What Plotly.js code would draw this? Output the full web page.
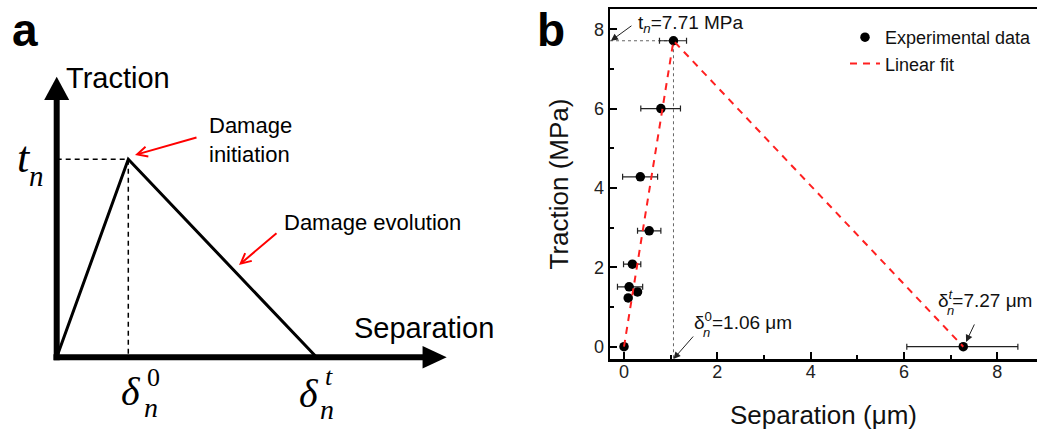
<!DOCTYPE html>
<html><head><meta charset="utf-8">
<script src="https://cdn.plot.ly/plotly-3.0.1.min.js"></script>
<style>html,body{margin:0;padding:0;background:#fff}#chart{width:1037px;height:430px}</style>
</head><body><div id="chart"></div>
<script>
// ---- Panel b: experimental traction-separation data ----
const separation   = [0, 0.09, 0.11, 0.29, 0.18, 0.54, 0.35, 0.79, 1.06, 7.27];
const traction     = [0, 1.23, 1.51, 1.38, 2.08, 2.92, 4.28, 6.00, 7.71, 0];
const sepErrPlus   = [0, 0, 0.29, 0, 0.18, 0.25, 0.37, 0.42, 0.28, 1.17];
const sepErrMinus  = [0, 0, 0.25, 0, 0.19, 0.25, 0.38, 0.43, 0.30, 1.21];
const fitSeparation = [0, 1.06, 7.27];
const fitTraction   = [0, 7.71, 0];
const peakTraction = 7.71, initSeparation = 1.06, failSeparation = 7.27;
const xTickVals = [0, 2, 4, 6, 8];
const yTickVals = [0, 2, 4, 6, 8];
const xRange = [-0.3, 8.85];
const yRange = [-0.31, 8.51];
// ---- Panel a: schematic bilinear law (normalised) ----
const schemSeparation = [0, 1, 3.63];
const schemTraction   = [0, 1, 0];

const W = 1037, H = 430;
const px = v => v / W;
const py = v => 1 - v / H;
const SANS = 'Liberation Sans, Arial, sans-serif';
const SERIF = 'Liberation Serif, Times New Roman, serif';

const traces = [
  // panel a
  {x: [0, schemSeparation[1], schemSeparation[1]], y: [schemTraction[1], schemTraction[1], 0],
   xaxis: 'x2', yaxis: 'y2', mode: 'lines', line: {color: '#000', width: 1.5, dash: '5px,4px'},
   showlegend: false, hoverinfo: 'skip'},
  {x: schemSeparation, y: schemTraction, xaxis: 'x2', yaxis: 'y2', mode: 'lines',
   line: {color: '#000', width: 3}, showlegend: false, hoverinfo: 'skip'},
  // panel b guides
  {x: [xRange[0], initSeparation, initSeparation], y: [peakTraction, peakTraction, yRange[0]],
   mode: 'lines', line: {color: '#666', width: 1, dash: 'dot'}, showlegend: false, hoverinfo: 'skip'},
  // data
  {x: separation, y: traction, mode: 'markers', name: 'Experimental data',
   marker: {color: '#000', size: 9.5},
   error_x: {type: 'data', array: sepErrPlus, arrayminus: sepErrMinus, color: '#222', thickness: 1.2, width: 3}},
  // fit
  {x: fitSeparation, y: fitTraction, mode: 'lines', name: 'Linear fit',
   line: {color: '#ff2020', width: 2, dash: '7px,6px'}},
];

const annotations = [
  // panel a
  {xref: 'paper', yref: 'paper', x: px(10), y: py(30), xanchor: 'left', yanchor: 'middle', showarrow: false,
   text: '<b>a</b>', font: {family: SANS, size: 46, color: '#000'}},
  {xref: 'paper', yref: 'paper', x: px(64), y: py(78), xanchor: 'left', yanchor: 'middle', showarrow: false,
   text: 'Traction', font: {family: SANS, size: 29, color: '#000'}},
  {xref: 'paper', yref: 'paper', x: px(352), y: py(328), xanchor: 'left', yanchor: 'middle', showarrow: false,
   text: 'Separation', font: {family: SANS, size: 29, color: '#000'}},
  {xref: 'paper', yref: 'paper', x: px(24), y: py(157), xanchor: 'center', yanchor: 'middle', showarrow: false,
   text: '<i>t</i>', font: {family: SERIF, size: 44, color: '#000'}},
  {xref: 'paper', yref: 'paper', x: px(36), y: py(176), xanchor: 'center', yanchor: 'middle', showarrow: false,
   text: '<i>n</i>', font: {family: SERIF, size: 29, color: '#000'}},
  {xref: 'paper', yref: 'paper', x: px(131), y: py(391), xanchor: 'center', yanchor: 'middle', showarrow: false,
   text: '<i>δ</i>', font: {family: SERIF, size: 40, color: '#000'}},
  {xref: 'paper', yref: 'paper', x: px(153), y: py(377), xanchor: 'center', yanchor: 'middle', showarrow: false,
   text: '0', font: {family: SERIF, size: 26, color: '#000'}},
  {xref: 'paper', yref: 'paper', x: px(151), y: py(407), xanchor: 'center', yanchor: 'middle', showarrow: false,
   text: '<i>n</i>', font: {family: SERIF, size: 28, color: '#000'}},
  {xref: 'paper', yref: 'paper', x: px(309), y: py(393), xanchor: 'center', yanchor: 'middle', showarrow: false,
   text: '<i>δ</i>', font: {family: SERIF, size: 40, color: '#000'}},
  {xref: 'paper', yref: 'paper', x: px(329), y: py(376), xanchor: 'center', yanchor: 'middle', showarrow: false,
   text: '<i>t</i>', font: {family: SERIF, size: 26, color: '#000'}},
  {xref: 'paper', yref: 'paper', x: px(327), y: py(409), xanchor: 'center', yanchor: 'middle', showarrow: false,
   text: '<i>n</i>', font: {family: SERIF, size: 28, color: '#000'}},
  {xref: 'paper', yref: 'paper', x: px(207), y: py(140), xanchor: 'left', yanchor: 'middle', showarrow: false, align: 'left',
   text: 'Damage<br>initiation', font: {family: SANS, size: 22, color: '#000'}},
  {xref: 'paper', yref: 'paper', x: px(282), y: py(222), xanchor: 'left', yanchor: 'middle', showarrow: false,
   text: 'Damage evolution', font: {family: SANS, size: 22, color: '#000'}},
  {xref: 'paper', yref: 'paper', x: px(135), y: py(155), ax: 63, ay: -18, text: '', showarrow: true,
   arrowcolor: '#ff0000', arrowwidth: 2, arrowhead: 5, arrowsize: 1},
  {xref: 'paper', yref: 'paper', x: px(239), y: py(265), ax: 39, ay: -33, text: '', showarrow: true,
   arrowcolor: '#ff0000', arrowwidth: 2, arrowhead: 5, arrowsize: 1},
  // panel b
  {xref: 'paper', yref: 'paper', x: px(535), y: py(30), xanchor: 'left', yanchor: 'middle', showarrow: false,
   text: '<b>b</b>', font: {family: SANS, size: 46, color: '#000'}},
  {xref: 'paper', yref: 'paper', x: px(636), y: py(24), xanchor: 'left', yanchor: 'middle', showarrow: false,
   text: 't<sub><i>n</i></sub>=7.71 MPa', font: {family: SANS, size: 19, color: '#111'}},
  {xref: 'x', yref: 'y', x: xRange[0] + 0.02, y: peakTraction, ax: 22, ay: -16, text: '', showarrow: true,
   arrowcolor: '#222', arrowwidth: 1, arrowhead: 2, arrowsize: 1.4},
  {xref: 'paper', yref: 'paper', x: px(692), y: py(321), xanchor: 'left', yanchor: 'middle', showarrow: false,
   text: 'δ<sup>0</sup>=1.06 μm', font: {family: SANS, size: 19, color: '#111'}},
  {xref: 'paper', yref: 'paper', x: px(706), y: py(332), xanchor: 'center', yanchor: 'middle', showarrow: false,
   text: '<i>n</i>', font: {family: SANS, size: 13, color: '#111'}},
  {xref: 'x', yref: 'y', x: initSeparation, y: yRange[0], ax: 21, ay: -24, text: '', showarrow: true,
   arrowcolor: '#222', arrowwidth: 1, arrowhead: 2, arrowsize: 1.4},
  {xref: 'paper', yref: 'paper', x: px(936), y: py(299), xanchor: 'left', yanchor: 'middle', showarrow: false,
   text: 'δ<sup><i>t</i></sup>=7.27 μm', font: {family: SANS, size: 19, color: '#111'}},
  {xref: 'paper', yref: 'paper', x: px(950), y: py(310), xanchor: 'center', yanchor: 'middle', showarrow: false,
   text: '<i>n</i>', font: {family: SANS, size: 13, color: '#111'}},
  {xref: 'x', yref: 'y', x: failSeparation + 0.06, y: 0.12, ax: 9, ay: -19, text: '', showarrow: true,
   arrowcolor: '#222', arrowwidth: 1, arrowhead: 2, arrowsize: 1.4},
];

const shapes = [
  // panel a axes with arrowheads
  {type: 'line', xref: 'x2', yref: 'y2', x0: 0, x1: 0, y0: -0.015, y1: 1.31, line: {color: '#000', width: 6}},
  {type: 'path', xref: 'x2', yref: 'y2', path: 'M -0.175,1.30 L 0.175,1.30 L 0,1.417 Z',
   fillcolor: '#000', line: {color: '#000', width: 0}},
  {type: 'line', xref: 'x2', yref: 'y2', x0: -0.045, x1: 5.12, y0: 0, y1: 0, line: {color: '#000', width: 6}},
  {type: 'path', xref: 'x2', yref: 'y2', path: 'M 5.11,-0.057 L 5.11,0.057 L 5.447,0 Z',
   fillcolor: '#000', line: {color: '#000', width: 0}},
];

const layout = {
  width: W, height: H,
  margin: {l: 0, r: 0, t: 0, b: 0},
  paper_bgcolor: '#fff', plot_bgcolor: 'rgba(0,0,0,0)',
  font: {family: SANS, color: '#111'},
  showlegend: true,
  legend: {x: px(845), y: py(19), xanchor: 'left', yanchor: 'top', bgcolor: 'rgba(0,0,0,0)',
           font: {family: SANS, size: 18, color: '#111'}, tracegroupgap: 0, itemwidth: 30},
  xaxis: {domain: [px(610), 1], range: xRange, anchor: 'y',
          showline: true, linecolor: '#000', linewidth: 2.5, mirror: true,
          ticks: 'inside', ticklen: 7, tickwidth: 2, tickcolor: '#000',
          tickvals: xTickVals, ticktext: xTickVals.map(String),
          minor: {ticks: 'inside', dtick: 1, tick0: 0, ticklen: 4, tickwidth: 2, tickcolor: '#000'},
          showgrid: false, zeroline: false,
          tickfont: {family: SANS, size: 18, color: '#222'}, ticklabelstandoff: -5,
          title: {text: 'Separation (μm)', font: {family: SANS, size: 26, color: '#111'}, standoff: 35}},
  yaxis: {domain: [py(359), py(9)], range: yRange, anchor: 'x',
          showline: true, linecolor: '#000', linewidth: 2.5, mirror: false,
          ticks: 'inside', ticklen: 7, tickwidth: 2, tickcolor: '#000',
          tickvals: yTickVals, ticktext: yTickVals.map(String),
          minor: {ticks: 'inside', dtick: 1, tick0: 0, ticklen: 4, tickwidth: 2, tickcolor: '#000'},
          showgrid: false, zeroline: false,
          tickfont: {family: SANS, size: 18, color: '#222'}, ticklabelstandoff: 0,
          title: {text: 'Traction (MPa)', font: {family: SANS, size: 26, color: '#111'}, standoff: 18}},
  xaxis2: {domain: [0, px(520)], range: [-56.7 / 71.6, (520 - 56.7) / 71.6], anchor: 'y2', visible: false, fixedrange: true},
  yaxis2: {domain: [0, 1], range: [-72.7 / 198, (430 - 72.7) / 198], anchor: 'x2', visible: false, fixedrange: true},
  annotations: annotations,
  shapes: shapes,
};

Plotly.newPlot('chart', traces, layout, {displayModeBar: false, staticPlot: true});
</script>
</body></html>
